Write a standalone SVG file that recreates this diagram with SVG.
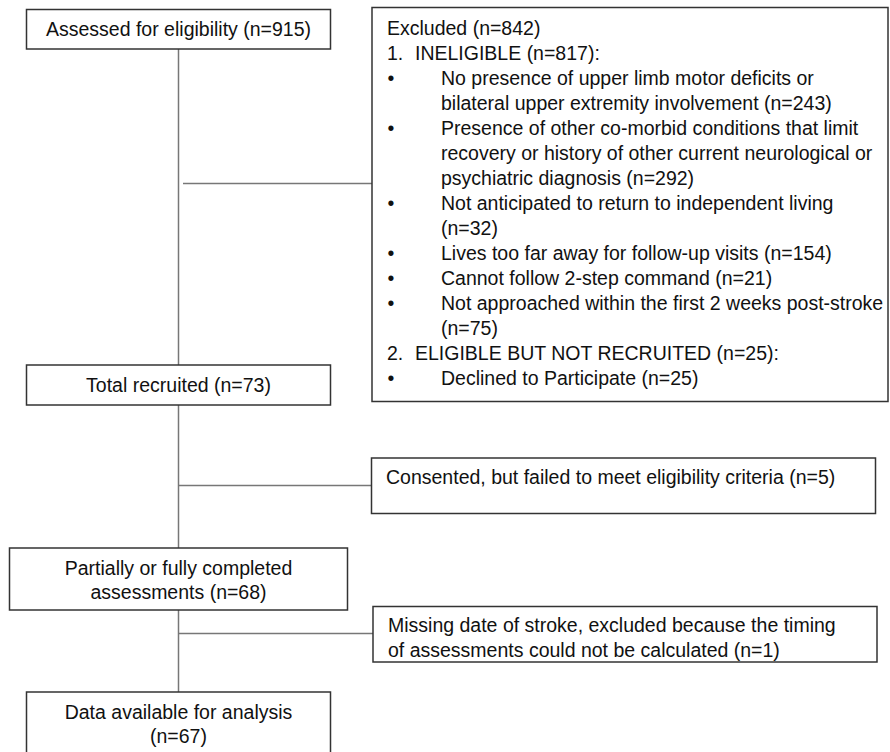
<svg xmlns="http://www.w3.org/2000/svg" width="890" height="752" viewBox="0 0 890 752">
<style>
.box{fill:#fff;stroke:#333;stroke-width:1.5}
.ln{stroke:#777;stroke-width:1.5;fill:none}
text{font-family:"Liberation Sans",Arial,sans-serif;font-size:19.5px;fill:#111}
.c{text-anchor:middle}
</style>
<rect width="890" height="752" fill="#fff"/>
<g id="connectors">
<line class="ln" x1="178.5" y1="49" x2="178.5" y2="365"/>
<line class="ln" x1="183" y1="183.5" x2="372" y2="183.5"/>
<line class="ln" x1="178.5" y1="405" x2="178.5" y2="548"/>
<line class="ln" x1="178.5" y1="485.5" x2="372" y2="485.5"/>
<line class="ln" x1="178.5" y1="610" x2="178.5" y2="692"/>
<line class="ln" x1="178.5" y1="633.5" x2="373" y2="633.5"/>
</g>
<g id="assessed">
<rect class="box" x="26.5" y="9.5" width="304" height="39.5"/>
<text class="c" x="178.5" y="36">Assessed for eligibility (n=915)</text>
</g>
<g id="excluded">
<rect class="box" x="372" y="7.5" width="516" height="394"/>
<text x="387" y="35">Excluded (n=842)</text>
<text x="387" y="60">1.</text><text x="415" y="60">INELIGIBLE (n=817):</text>
<text x="391" y="85" class="c">•</text><text x="441" y="85">No presence of upper limb motor deficits or</text>
<text x="441" y="110">bilateral upper extremity involvement (n=243)</text>
<text x="391" y="135" class="c">•</text><text x="441" y="135">Presence of other co-morbid conditions that limit</text>
<text x="441" y="160">recovery or history of other current neurological or</text>
<text x="441" y="185">psychiatric diagnosis (n=292)</text>
<text x="391" y="210" class="c">•</text><text x="441" y="210">Not anticipated to return to independent living</text>
<text x="441" y="235">(n=32)</text>
<text x="391" y="260" class="c">•</text><text x="441" y="260">Lives too far away for follow-up visits (n=154)</text>
<text x="391" y="285" class="c">•</text><text x="441" y="285">Cannot follow 2-step command (n=21)</text>
<text x="391" y="310" class="c">•</text><text x="441" y="310">Not approached within the first 2 weeks post-stroke</text>
<text x="441" y="335">(n=75)</text>
<text x="387" y="360">2.</text><text x="415" y="360">ELIGIBLE BUT NOT RECRUITED (n=25):</text>
<text x="391" y="385" class="c">•</text><text x="441" y="385">Declined to Participate (n=25)</text>
</g>
<g id="recruited">
<rect class="box" x="26.5" y="365" width="304" height="40"/>
<text class="c" x="178.5" y="392">Total recruited (n=73)</text>
</g>
<g id="consented">
<rect class="box" x="371.5" y="458" width="504" height="55.5"/>
<text x="386" y="484">Consented, but failed to meet eligibility criteria (n=5)</text>
</g>
<g id="partial">
<rect class="box" x="9.5" y="548" width="338" height="62"/>
<text class="c" x="178.5" y="575">Partially or fully completed</text>
<text class="c" x="178.5" y="599">assessments (n=68)</text>
</g>
<g id="missing">
<rect class="box" x="373" y="606.5" width="504" height="55.5"/>
<text x="388" y="632">Missing date of stroke, excluded because the timing</text>
<text x="388" y="656.5">of assessments could not be calculated (n=1)</text>
</g>
<g id="data">
<rect class="box" x="26.5" y="692" width="304" height="80"/>
<text class="c" x="178.5" y="718.5">Data available for analysis</text>
<text class="c" x="178.5" y="742.5">(n=67)</text>
</g>
</svg>
